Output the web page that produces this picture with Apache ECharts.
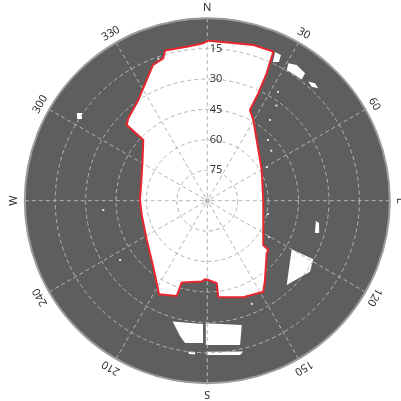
<!DOCTYPE html>
<html>
<head>
<meta charset="utf-8">
<script src="https://cdn.jsdelivr.net/npm/echarts@6/dist/echarts.min.js"></script>
<style>
  html, body { margin: 0; padding: 0; background: #ffffff; }
  #chart { width: 401px; height: 401px; }
</style>
</head>
<body>
<div id="chart"></div>
<script>
// Azimuth (degrees clockwise from north) and elevation (degrees above horizon)
const azimuthTicks = [0, 30, 60, 90, 120, 150, 180, 210, 240, 270, 300, 330];
const azimuthLabels = ['N', '30', '60', 'E', '120', '150', 'S', '210', '240', 'W', '300', '330'];
const elevationTicks = [15, 30, 45, 60, 75];

// Open-sky horizon outline (red line), listed clockwise
const horizonAzimuth = [0.4, 8.2, 16.5, 23.9, 25.0, 25.4, 25.2, 29.7, 45.2, 60.6, 89.3, 122.7, 128.4, 128.9,
  131.5, 144.0, 148.4, 159.6, 173.5, 173.5, 179.3, 181.7, 184.0, 197.4, 197.8, 207.3, 219.3, 237.0, 257.7,
  270.6, 290.1, 302.1, 313.5, 313.2, 316.2, 325.6, 333.3, 338.2, 342.8, 344.3, 352.4, 358.5];
const horizonElevation = [11.1, 11.3, 9.9, 9.6, 20.7, 31.4, 40.6, 44.2, 54.5, 59.2, 62.4, 57.2, 54.8, 51.3,
  50.9, 41.6, 37.3, 39.2, 42.1, 49.0, 50.9, 51.2, 50.0, 47.7, 40.6, 38.1, 47.9, 54.4, 56.9,
  56.8, 55.5, 52.3, 46.5, 35.5, 33.7, 29.8, 23.4, 17.9, 16.5, 13.1, 13.4, 12.3];

// Small openings seen through the obstructions, as [azimuth, elevation]
const gapNorthEast = [[30.5, 11.3], [33.4, 9.9], [37.5, 10.8], [37.9, 14.2], [31.3, 14.6]];
const gapNorthEastSmall = [[40.3, 13.0], [42.5, 11.4], [44.6, 12.1], [42.5, 13.8]];
const gapNorthEdge = [[24.5, 9.4], [26.8, 9.5], [27.3, 13.0], [25.3, 14.3]];
const gapEast = [[100.6, 35.5], [101.3, 33.8], [106.1, 32.6], [106.7, 34.6]];
const gapSouthEast = [[119.9, 42.0], [118.9, 30.3], [124.7, 28.4], [136.7, 32.9]];
const gapSouthLeft = [[196.0, 28.0], [182.0, 29.2], [181.7, 19.8], [188.9, 19.0], [191.4, 21.9]];
const gapSouthRight = [[180.7, 29.5], [164.5, 26.4], [167.2, 17.0], [180.6, 18.8]];
const gapSouthStrip = [[180.2, 15.5], [166.6, 13.5], [168.0, 12.2], [180.2, 13.9]];
const gapSouthStripSmall = [[187.2, 14.9], [184.6, 15.1], [184.6, 13.9], [186.8, 13.9]];
const gapWest = [[303.9, 12.5], [305.0, 14.6], [303.1, 16.2], [302.1, 14.2]];
const gapList = [gapNorthEast, gapNorthEastSmall, gapNorthEdge, gapEast, gapSouthEast,
  gapSouthLeft, gapSouthRight, gapSouthStrip, gapSouthStripSmall, gapWest];

// Scattered single-pixel openings
const speckAzimuth = [33.0, 37.8, 45.0, 60.6, 102.4, 120.5, 156.7, 235.8, 264.9, 341.0, 36.0, 52.0];
const speckElevation = [26.0, 39.6, 47.7, 56.2, 59.4, 54.7, 34.6, 38.0, 38.5, 16.0, 32.0, 50.0];

const chart = echarts.init(document.getElementById('chart'), null, { renderer: 'canvas' });

const horizonPoints = horizonAzimuth.map((az, i) => [az, horizonElevation[i]]);

// polar coordinate order is [radius, angle] = [elevation, azimuth]
function toPixel(api, az, el) {
  return api.coord([el, az]);
}
function frame(api) {
  const c = api.coord([90, 0]);
  const e = api.coord([0, 0]);
  return { cx: c[0], cy: c[1], r: Math.hypot(e[0] - c[0], e[1] - c[1]) };
}

const option = {
  animation: false,
  polar: { center: [207.3, 200.7], radius: 182.5 },
  angleAxis: {
    type: 'value', min: 0, max: 360, interval: 30, startAngle: 90, clockwise: true, z: 3,
    axisLine: { show: true, lineStyle: { color: '#9b9b9b', width: 2 } },
    axisTick: { show: false },
    axisLabel: { show: false },
    splitLine: { show: true, lineStyle: { color: '#b4b4b4', width: 1, type: [4, 3] } }
  },
  radiusAxis: {
    type: 'value', min: 0, max: 90, interval: 15, inverse: true, z: 3,
    axisLine: { show: false },
    axisTick: { show: false },
    axisLabel: { show: false },
    splitLine: { show: true, lineStyle: { color: '#b4b4b4', width: 1, type: [4, 3] } }
  },
  series: [
    {
      // obstructed sky: full disk in dark grey
      type: 'custom', coordinateSystem: 'polar', z: 1, silent: true,
      data: [[0, 0]],
      renderItem: function (params, api) {
        const f = frame(api);
        return { type: 'circle', shape: { cx: f.cx, cy: f.cy, r: f.r }, style: { fill: '#5e5e5e' } };
      }
    },
    {
      // visible sky and small openings
      type: 'custom', coordinateSystem: 'polar', z: 2, silent: true,
      data: [[0, 0]],
      renderItem: function (params, api) {
        const children = [{
          type: 'polygon',
          shape: { points: horizonPoints.map(p => toPixel(api, p[0], p[1])) },
          style: { fill: '#ffffff' }
        }];
        gapList.forEach(g => {
          children.push({
            type: 'polygon',
            shape: { points: g.map(p => toPixel(api, p[0], p[1])) },
            style: { fill: '#ffffff' }
          });
        });
        return { type: 'group', children: children };
      }
    },
    {
      type: 'scatter', coordinateSystem: 'polar', z: 2, silent: true,
      symbol: 'rect', symbolSize: 2,
      itemStyle: { color: '#ffffff' },
      data: speckAzimuth.map((az, i) => [speckElevation[i], az])
    },
    {
      // horizon outline
      type: 'custom', coordinateSystem: 'polar', z: 4, silent: true,
      data: [[0, 0]],
      renderItem: function (params, api) {
        return {
          type: 'polygon',
          shape: { points: horizonPoints.map(p => toPixel(api, p[0], p[1])) },
          style: { fill: 'none', stroke: '#e8262e', lineWidth: 2, lineJoin: 'round' }
        };
      }
    },
    {
      // labels: elevation rings and compass directions
      type: 'custom', coordinateSystem: 'polar', z: 5, silent: true,
      data: [[0, 0]],
      renderItem: function (params, api) {
        const f = frame(api);
        const children = [{
          type: 'circle', shape: { cx: f.cx, cy: f.cy, r: 2.5 }, style: { fill: '#bdbdbd' }
        }];
        elevationTicks.forEach(el => {
          const p = toPixel(api, 0, el);
          children.push({
            type: 'text', x: p[0] + 2.5, y: p[1],
            style: { text: String(el), fill: '#3a3a3a', font: '11px "Noto Sans", sans-serif',
              align: 'left', verticalAlign: 'middle' }
          });
        });
        azimuthTicks.forEach((az, i) => {
          const e = toPixel(api, az, 0);
          const k = (f.r + 10.5) / f.r;
          const x = f.cx + (e[0] - f.cx) * k;
          const y = f.cy + (e[1] - f.cy) * k;
          children.push({
            type: 'text', x: x, y: y, rotation: -az * Math.PI / 180,
            style: { text: azimuthLabels[i], fill: '#2f2f2f', font: '11px "Noto Sans", sans-serif',
              align: 'center', verticalAlign: 'middle' }
          });
        });
        return { type: 'group', children: children };
      }
    }
  ]
};

chart.setOption(option);
</script>
</body>
</html>
